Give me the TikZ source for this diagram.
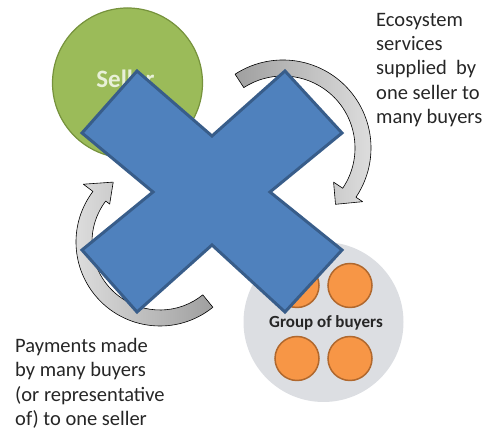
\documentclass[tikz,border=0pt]{standalone}
\usepackage{fontspec}
\setmainfont{Carlito}
\definecolor{sellergreen}{HTML}{9BBB59}
\definecolor{sellerline}{HTML}{76923C}
\definecolor{sellertext}{HTML}{E8F0D8}
\definecolor{crossblue}{HTML}{4F81BD}
\definecolor{crossline}{HTML}{385D8A}
\definecolor{buyerorange}{HTML}{F79646}
\definecolor{buyerline}{HTML}{B0682E}
\definecolor{groupgray}{HTML}{DCDEE2}
\begin{document}
\begin{tikzpicture}[x=1pt,y=1pt,
seller/.style={circle,draw=sellerline,fill=sellergreen,line width=1.2pt,minimum size=150pt,inner sep=0pt},
group/.style={circle,fill=groupgray,minimum size=160pt,inner sep=0pt},
buyer/.style={circle,draw=buyerline,fill=buyerorange,line width=1.5pt,minimum size=44pt,inner sep=0pt},
note/.style={anchor=north west,inner sep=0pt,align=left,text=black!85,font=\fontsize{20.5}{24.3}\selectfont},
flow/.style={draw=black,line width=0.6pt,line join=round},
cross/.style={draw=crossline,fill=crossblue,line width=3pt,line join=miter}]
\useasboundingbox (0,0) rectangle (485,430);
\node[seller] (seller) at (127.5,347) {};
\node[text=sellertext,font=\bfseries\fontsize{25}{28}\selectfont] (sellerlabel) at ([xshift=-2pt,yshift=4pt]seller.center) {Seller};
\node[group] (group) at (323.5,108) {};
\foreach \dx/\dy [count=\i] in {-1/1,1/1,-1/-1,1/-1}
  \node[buyer] (buyer\i) at ([shift={(\dx*26.5,\dy*36.5)}]group.center) {};
\node[font=\bfseries\fontsize{17}{20}\selectfont,text=black!85] (grouplabel) at ([xshift=2.5pt,yshift=-1pt]group.center) {Group of buyers};
\node[note] (supply) at (376,417) {Ecosystem\\services\\supplied\ \ by\\one seller to\\many buyers};
\node[note] (payment) at (15,92) {Payments made\\by many buyers\\(or representative\\of) to one seller};
\coordinate (upc) at (283,282);
\coordinate (lowc) at (160,188);
\draw[flow,left color=gray!75,right color=gray!25]
  ([shift={(123:88)}]upc) arc[start angle=123,end angle=-34,radius=88]
  -- ([shift={(-34:96)}]upc) -- ([shift={(-47:77)}]upc) -- ([shift={(-34:61)}]upc)
  -- ([shift={(-34:72)}]upc) arc[start angle=-34,end angle=123,radius=72] -- cycle;
\draw[flow,left color=gray!25,right color=gray!75]
  ([shift={(-51:84)}]lowc) arc[start angle=-51,end angle=-217,radius=84]
  -- ([shift={(-217:96)}]lowc) -- ([shift={(-232:76)}]lowc) -- ([shift={(-217:63)}]lowc)
  -- ([shift={(-217:68)}]lowc) arc[start angle=-217,end angle=-51,radius=68] -- cycle;
\draw[cross] (137,359) -- (212,294) -- (285,359) -- (342,297) -- (270,238) -- (342,180)
  -- (285,118) -- (212,185) -- (137,118) -- (82,180) -- (153,238) -- (82,297) -- cycle;
\end{tikzpicture}
\end{document}
